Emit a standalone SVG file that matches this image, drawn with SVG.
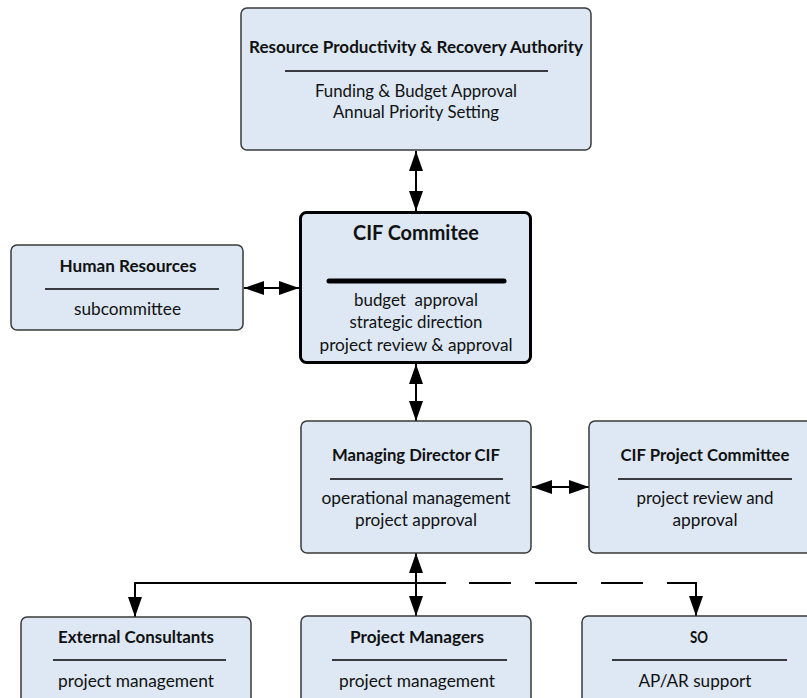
<svg xmlns="http://www.w3.org/2000/svg" width="807" height="698" viewBox="0 0 807 698">
<defs>
<marker id="ah" viewBox="0 0 20 14" markerWidth="20" markerHeight="14" markerUnits="userSpaceOnUse" refX="20" refY="7" orient="auto-start-reverse">
<path d="M0,0 L20,7 L0,14 z" fill="#000"/>
</marker>
<style>
.box{fill:#dde8f4;stroke:#3a3a3a;stroke-width:1.5}
.thick{fill:#dde8f4;stroke:#000;stroke-width:3}
.sep{stroke:#000;stroke-width:1.5}
.t{font-family:Lato,"Liberation Sans",sans-serif;font-size:17px;fill:#111;text-anchor:middle}
.b{font-weight:bold}
.big{font-size:21px}
.c{fill:none;stroke:#000;stroke-width:2}
</style>
</defs>
<rect width="807" height="698" fill="#fff"/>
<g id="connectors">
<line class="c" x1="416" y1="151" x2="416" y2="211" marker-start="url(#ah)" marker-end="url(#ah)"/>
<line class="c" x1="244" y1="288" x2="299" y2="288" marker-start="url(#ah)" marker-end="url(#ah)"/>
<line class="c" x1="416" y1="364" x2="416" y2="421" marker-start="url(#ah)" marker-end="url(#ah)"/>
<line class="c" x1="532" y1="487" x2="589" y2="487" marker-start="url(#ah)" marker-end="url(#ah)"/>
<line class="c" x1="416" y1="553" x2="416" y2="616" marker-start="url(#ah)" marker-end="url(#ah)"/>
<path class="c" d="M446,583 H135 V617" marker-end="url(#ah)"/>
<path class="c" d="M446,583 H696 V616" stroke-dasharray="0 23 42 24 42 24 42 24 200" marker-end="url(#ah)"/>
</g>
<g id="rpra">
<rect class="box" x="241" y="8" width="350" height="142" rx="6"/>
<text class="t b" x="416" y="53" textLength="334" lengthAdjust="spacingAndGlyphs">Resource Productivity &amp; Recovery Authority</text>
<line class="sep" x1="285" y1="71" x2="548" y2="71"/>
<text class="t" x="416" y="97" textLength="202" lengthAdjust="spacingAndGlyphs">Funding &amp; Budget Approval</text>
<text class="t" x="416" y="118" textLength="166" lengthAdjust="spacingAndGlyphs">Annual Priority Setting</text>
</g>
<g id="hr">
<rect class="box" x="11" y="245" width="232" height="85" rx="6"/>
<text class="t b" x="128" y="272" textLength="137" lengthAdjust="spacingAndGlyphs">Human Resources</text>
<line class="sep" x1="45" y1="289" x2="219" y2="289"/>
<text class="t" x="127.5" y="315" textLength="107" lengthAdjust="spacingAndGlyphs">subcommittee</text>
</g>
<g id="cif">
<rect class="thick" x="300.5" y="212.5" width="230" height="150" rx="6"/>
<text class="t b big" x="416" y="240" textLength="126" lengthAdjust="spacingAndGlyphs">CIF Commitee</text>
<line x1="329" y1="281" x2="504" y2="281" stroke="#000" stroke-width="5" stroke-linecap="round"/>
<text class="t" x="416" y="306" textLength="124" lengthAdjust="spacingAndGlyphs" xml:space="preserve">budget  approval</text>
<text class="t" x="416" y="328" textLength="133" lengthAdjust="spacingAndGlyphs">strategic direction</text>
<text class="t" x="416" y="351" textLength="193" lengthAdjust="spacingAndGlyphs">project review &amp; approval</text>
</g>
<g id="md">
<rect class="box" x="301" y="421" width="230" height="132" rx="6"/>
<text class="t b" x="416" y="461" textLength="168" lengthAdjust="spacingAndGlyphs">Managing Director CIF</text>
<line class="sep" x1="330" y1="479" x2="503" y2="479"/>
<text class="t" x="416" y="504" textLength="189" lengthAdjust="spacingAndGlyphs">operational management</text>
<text class="t" x="416" y="526" textLength="122" lengthAdjust="spacingAndGlyphs">project approval</text>
</g>
<g id="cpc">
<rect class="box" x="589" y="421" width="232" height="132" rx="6"/>
<text class="t b" x="705" y="461" textLength="169" lengthAdjust="spacingAndGlyphs">CIF Project Committee</text>
<line class="sep" x1="618" y1="479" x2="792" y2="479"/>
<text class="t" x="705" y="504" textLength="137" lengthAdjust="spacingAndGlyphs">project review and</text>
<text class="t" x="705" y="526" textLength="65" lengthAdjust="spacingAndGlyphs">approval</text>
</g>
<g id="ec">
<rect class="box" x="21" y="617" width="230" height="100" rx="6"/>
<text class="t b" x="136" y="643" textLength="156" lengthAdjust="spacingAndGlyphs">External Consultants</text>
<line class="sep" x1="53" y1="660" x2="226" y2="660"/>
<text class="t" x="136" y="687" textLength="156" lengthAdjust="spacingAndGlyphs">project management</text>
</g>
<g id="pm">
<rect class="box" x="301" y="616" width="230" height="100" rx="6"/>
<text class="t b" x="417" y="643" textLength="134" lengthAdjust="spacingAndGlyphs">Project Managers</text>
<line class="sep" x1="332" y1="660" x2="507" y2="660"/>
<text class="t" x="417" y="687" textLength="156" lengthAdjust="spacingAndGlyphs">project management</text>
</g>
<g id="so">
<rect class="box" x="582" y="616" width="232" height="100" rx="6"/>
<text class="t b" x="699" y="643" textLength="18" lengthAdjust="spacingAndGlyphs">SO</text>
<line class="sep" x1="612" y1="660" x2="787" y2="660"/>
<text class="t" x="695" y="687" textLength="113" lengthAdjust="spacingAndGlyphs">AP/AR support</text>
</g>
</svg>
